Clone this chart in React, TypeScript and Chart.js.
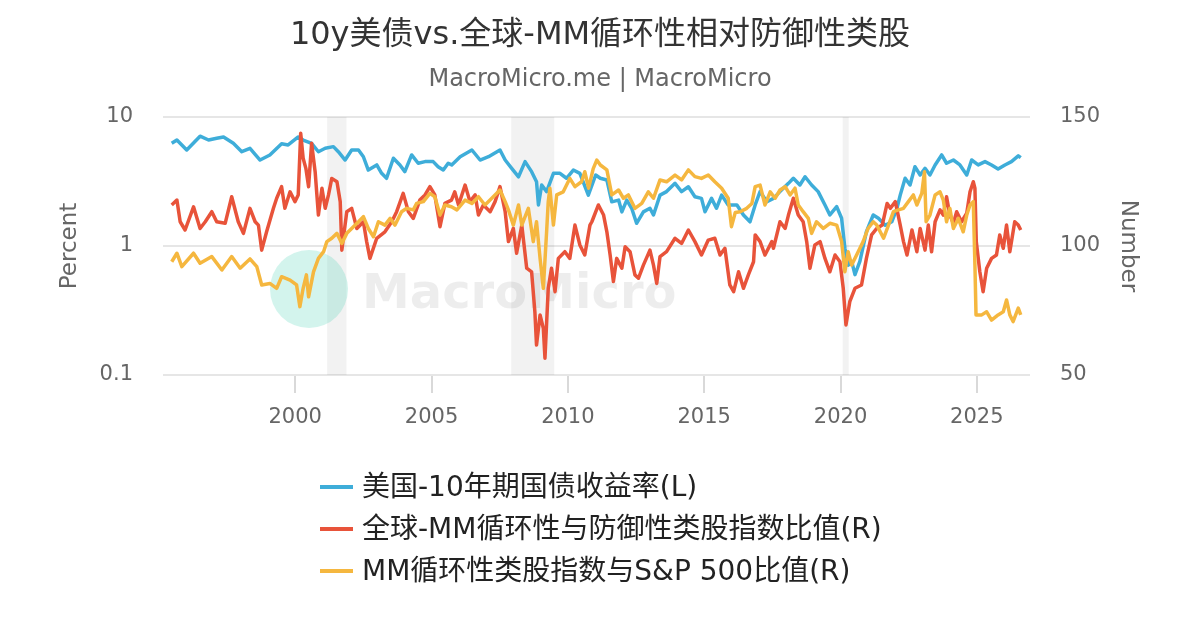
import React, { useEffect, useRef } from "react";
import { Chart, registerables } from "chart.js";

Chart.register(...registerables);

const FONT = '"DejaVu Sans", "Noto Sans CJK SC", sans-serif';

const TITLE = "10y美债vs.全球-MM循环性相对防御性类股";
const SUBTITLE = "MacroMicro.me | MacroMicro";
const SERIES_NAMES = [
  "美国-10年期国债收益率(L)",
  "全球-MM循环性与防御性类股指数比值(R)",
  "MM循环性类股指数与S&P 500比值(R)",
];
const COLORS = ["#3EADD9", "#E8533A", "#F5B73F"];
const LEFT_TITLE = "Percent";
const RIGHT_TITLE = "Number";

const X_TICKS = [2000, 2005, 2010, 2015, 2020, 2025];
const LEFT_TICKS = [0.1, 1, 10];
const RIGHT_TICKS = [50, 100, 150];
const RECESSIONS: [number, number][] = [
  [2001.17, 2001.88],
  [2007.92, 2009.5],
  [2020.08, 2020.3],
];

// US 10-year treasury yield (%), left log axis
const yieldSeries: [number, number][] = [
  [1995.47, 6.25], [1995.66, 6.63], [1996.02, 5.55], [1996.51, 7.1], [1996.82, 6.63],
  [1997.12, 6.84], [1997.37, 7.0], [1997.73, 6.25], [1998.04, 5.38], [1998.34, 5.72],
  [1998.71, 4.64], [1999.07, 5.08], [1999.5, 6.2], [1999.74, 6.07], [2000.11, 7.0],
  [2000.29, 6.63], [2000.6, 6.25], [2000.85, 5.38], [2001.1, 5.72], [2001.4, 5.89],
  [2001.58, 5.38], [2001.83, 4.64], [2002.07, 5.55], [2002.32, 5.55], [2002.5, 4.92],
  [2002.68, 3.88], [2002.99, 4.25], [2003.17, 3.66], [2003.35, 3.35], [2003.6, 4.79],
  [2003.84, 4.25], [2004.02, 3.77], [2004.27, 5.08], [2004.51, 4.38], [2004.76, 4.51],
  [2005.06, 4.51], [2005.24, 4.12], [2005.43, 3.88], [2005.61, 4.38], [2005.74, 4.25],
  [2006.05, 4.92], [2006.48, 5.55], [2006.78, 4.64], [2007.09, 4.92], [2007.51, 5.55],
  [2007.7, 4.64], [2007.94, 4.0], [2008.19, 3.44], [2008.43, 4.51], [2008.67, 3.77],
  [2008.85, 3.15], [2008.92, 2.08], [2009.04, 2.97], [2009.22, 2.64], [2009.47, 3.66],
  [2009.71, 3.66], [2009.95, 3.35], [2010.2, 3.88], [2010.44, 3.66], [2010.75, 2.48],
  [2011.02, 3.55], [2011.19, 3.35], [2011.43, 3.25], [2011.61, 2.2], [2011.86, 2.27],
  [2011.98, 1.84], [2012.16, 2.27], [2012.34, 1.96], [2012.52, 1.5], [2012.77, 1.84],
  [2013.01, 1.96], [2013.14, 1.74], [2013.38, 2.48], [2013.62, 2.64], [2013.93, 3.06],
  [2014.17, 2.64], [2014.42, 2.88], [2014.66, 2.41], [2014.9, 2.34], [2015.03, 1.84],
  [2015.27, 2.34], [2015.45, 1.96], [2015.64, 2.48], [2015.88, 2.08], [2016.2, 2.08],
  [2016.44, 1.74], [2016.68, 1.54], [2016.87, 2.08], [2017.05, 2.64], [2017.3, 2.2],
  [2017.54, 2.34], [2017.78, 2.64], [2018.09, 3.06], [2018.27, 3.35], [2018.51, 2.97],
  [2018.7, 3.44], [2018.94, 2.97], [2019.18, 2.64], [2019.43, 2.08], [2019.61, 1.74],
  [2019.86, 2.02], [2020.04, 1.64], [2020.16, 0.96], [2020.28, 0.71], [2020.41, 0.76],
  [2020.53, 0.6], [2020.71, 0.76], [2020.95, 1.29], [2021.2, 1.74], [2021.39, 1.64],
  [2021.64, 1.45], [2021.88, 1.54], [2022.07, 1.96], [2022.19, 2.48], [2022.37, 3.35],
  [2022.55, 2.97], [2022.73, 4.12], [2022.92, 3.55], [2023.1, 4.0], [2023.28, 3.55],
  [2023.47, 4.25], [2023.71, 5.08], [2023.89, 4.38], [2024.14, 4.64], [2024.38, 4.25],
  [2024.63, 3.55], [2024.81, 4.64], [2025.05, 4.25], [2025.3, 4.51], [2025.54, 4.25],
  [2025.78, 3.95], [2026.03, 4.25], [2026.27, 4.51], [2026.52, 5.0], [2026.61, 4.84],
];

// Global MM cyclical / defensive sector index ratio, right axis
const cycDefSeries: [number, number][] = [
  [1995.47, 115.9], [1995.66, 117.8], [1995.78, 109.4], [1995.96, 106.2], [1996.27, 115.2],
  [1996.51, 106.8], [1996.7, 109.4], [1996.94, 113.3], [1997.12, 109.4], [1997.43, 108.8],
  [1997.67, 119.1], [1997.91, 109.4], [1998.1, 104.9], [1998.34, 114.6], [1998.53, 109.4],
  [1998.65, 108.1], [1998.77, 98.4], [1998.95, 105.5], [1999.2, 114.6], [1999.32, 118.5],
  [1999.5, 123.0], [1999.62, 114.6], [1999.81, 121.0], [1999.99, 117.2], [2000.11, 119.8],
  [2000.2, 143.7], [2000.29, 134.0], [2000.39, 130.1], [2000.49, 123.0], [2000.6, 139.8],
  [2000.73, 128.8], [2000.85, 112.0], [2000.98, 122.4], [2001.1, 114.6], [2001.22, 119.8],
  [2001.34, 126.2], [2001.53, 124.9], [2001.65, 117.2], [2001.71, 98.4], [2001.89, 113.3],
  [2002.07, 114.6], [2002.26, 106.8], [2002.5, 109.4], [2002.62, 101.7], [2002.74, 95.2],
  [2002.99, 103.0], [2003.29, 105.5], [2003.54, 109.4], [2003.72, 113.3], [2003.96, 120.4],
  [2004.15, 113.3], [2004.33, 110.7], [2004.57, 117.8], [2004.76, 119.8], [2004.94, 123.0],
  [2005.12, 119.8], [2005.31, 107.5], [2005.49, 116.5], [2005.73, 117.8], [2005.85, 121.0],
  [2005.99, 115.9], [2006.23, 123.6], [2006.41, 117.2], [2006.6, 119.8], [2006.72, 112.0],
  [2006.9, 115.9], [2007.15, 113.3], [2007.33, 117.2], [2007.51, 123.0], [2007.7, 113.3],
  [2007.82, 101.7], [2008.0, 106.8], [2008.12, 97.2], [2008.31, 108.1], [2008.49, 91.4],
  [2008.67, 90.0], [2008.79, 74.5], [2008.85, 61.6], [2008.98, 73.3], [2009.1, 68.1],
  [2009.16, 56.5], [2009.28, 83.6], [2009.4, 91.4], [2009.53, 82.3], [2009.65, 95.2],
  [2009.89, 97.8], [2010.07, 95.2], [2010.26, 108.1], [2010.44, 100.4], [2010.62, 96.5],
  [2010.81, 108.1], [2010.88, 109.4], [2011.12, 115.9], [2011.31, 112.0], [2011.43, 105.5],
  [2011.55, 96.5], [2011.67, 86.2], [2011.79, 95.2], [2011.98, 91.4], [2012.1, 99.7],
  [2012.28, 97.8], [2012.46, 88.8], [2012.59, 87.5], [2012.77, 92.6], [2013.01, 98.4],
  [2013.14, 92.6], [2013.26, 85.5], [2013.38, 95.9], [2013.62, 97.8], [2013.93, 103.0],
  [2014.17, 101.0], [2014.42, 106.2], [2014.66, 101.7], [2014.9, 96.5], [2015.15, 102.3],
  [2015.39, 103.0], [2015.58, 96.5], [2015.76, 99.1], [2015.94, 84.9], [2016.08, 82.3],
  [2016.26, 90.0], [2016.44, 83.6], [2016.62, 88.8], [2016.81, 93.9], [2016.87, 104.3],
  [2017.05, 101.7], [2017.23, 96.5], [2017.48, 101.7], [2017.54, 99.1], [2017.78, 109.4],
  [2017.97, 106.8], [2018.09, 112.0], [2018.27, 118.5], [2018.45, 112.0], [2018.63, 109.4],
  [2018.76, 101.7], [2018.88, 91.4], [2019.06, 100.4], [2019.25, 101.7], [2019.43, 95.2],
  [2019.61, 90.0], [2019.8, 96.5], [2019.98, 93.9], [2020.1, 83.6], [2020.2, 69.4],
  [2020.34, 78.4], [2020.53, 83.6], [2020.77, 84.9], [2020.95, 95.2], [2021.14, 104.3],
  [2021.33, 106.8], [2021.53, 108.1], [2021.71, 116.5], [2021.83, 114.6], [2022.01, 117.2],
  [2022.19, 108.1], [2022.31, 101.7], [2022.44, 96.5], [2022.62, 106.2], [2022.8, 97.8],
  [2022.92, 106.8], [2023.1, 98.4], [2023.22, 108.1], [2023.34, 97.8], [2023.47, 109.4],
  [2023.65, 114.0], [2023.77, 112.0], [2023.89, 119.1], [2024.01, 112.0], [2024.14, 108.8],
  [2024.26, 113.3], [2024.44, 109.4], [2024.63, 112.7], [2024.75, 121.0], [2024.87, 124.9],
  [2024.93, 122.4], [2024.98, 101.7], [2025.11, 90.0], [2025.23, 82.3], [2025.36, 91.4],
  [2025.54, 95.2], [2025.72, 96.5], [2025.84, 104.3], [2025.97, 99.1], [2026.09, 108.1],
  [2026.21, 97.8], [2026.39, 109.4], [2026.52, 108.1], [2026.61, 106.2],
];

// MM cyclical sector index / S&P 500 ratio, right axis
const cycSpxSeries: [number, number][] = [
  [1995.47, 93.9], [1995.66, 97.2], [1995.84, 92.0], [1996.27, 97.2], [1996.51, 93.3],
  [1996.94, 95.9], [1997.31, 90.7], [1997.67, 95.9], [1997.98, 91.4], [1998.34, 95.0],
  [1998.59, 92.0], [1998.77, 84.9], [1999.07, 85.5], [1999.32, 83.6], [1999.5, 88.1],
  [1999.81, 86.8], [2000.05, 84.9], [2000.17, 76.5], [2000.29, 83.6], [2000.41, 88.8],
  [2000.49, 80.3], [2000.67, 90.0], [2000.85, 95.2], [2001.04, 97.8], [2001.16, 101.7],
  [2001.34, 103.0], [2001.53, 104.9], [2001.71, 101.0], [2001.89, 104.9], [2002.07, 106.8],
  [2002.32, 109.4], [2002.5, 111.4], [2002.68, 106.8], [2002.87, 103.6], [2003.05, 109.4],
  [2003.29, 108.1], [2003.48, 110.7], [2003.66, 108.1], [2003.9, 113.3], [2004.09, 114.6],
  [2004.33, 114.0], [2004.45, 116.5], [2004.7, 117.2], [2004.94, 120.4], [2005.12, 119.1],
  [2005.31, 112.0], [2005.49, 115.9], [2005.73, 115.2], [2005.93, 114.0], [2006.23, 117.8],
  [2006.48, 116.5], [2006.72, 119.1], [2006.96, 115.9], [2007.21, 118.5], [2007.51, 121.7],
  [2007.7, 117.2], [2007.82, 114.0], [2008.0, 108.1], [2008.19, 115.9], [2008.31, 108.1],
  [2008.55, 114.6], [2008.73, 101.7], [2008.85, 109.4], [2008.98, 95.2], [2009.1, 83.6],
  [2009.22, 105.5], [2009.28, 117.2], [2009.34, 122.4], [2009.47, 108.1], [2009.59, 119.8],
  [2009.83, 121.0], [2010.07, 126.2], [2010.26, 123.0], [2010.5, 124.9], [2010.62, 128.8],
  [2010.76, 122.4], [2010.93, 130.0], [2011.06, 133.3], [2011.19, 131.4], [2011.43, 129.5],
  [2011.61, 119.8], [2011.86, 121.7], [2012.04, 118.5], [2012.22, 119.8], [2012.46, 114.6],
  [2012.71, 116.5], [2012.95, 121.0], [2013.14, 118.5], [2013.38, 125.6], [2013.62, 124.9],
  [2013.93, 127.5], [2014.17, 125.6], [2014.42, 129.5], [2014.66, 126.9], [2014.9, 126.2],
  [2015.15, 127.5], [2015.39, 124.9], [2015.64, 122.4], [2015.88, 118.5], [2016.0, 107.5],
  [2016.14, 113.0], [2016.32, 113.3], [2016.56, 114.6], [2016.75, 116.5], [2016.87, 123.0],
  [2017.05, 123.6], [2017.23, 115.9], [2017.42, 121.0], [2017.6, 118.5], [2017.78, 121.7],
  [2017.97, 123.0], [2018.15, 119.8], [2018.33, 122.4], [2018.45, 115.9], [2018.63, 113.3],
  [2018.82, 110.7], [2018.94, 104.9], [2019.12, 109.4], [2019.37, 106.8], [2019.61, 108.8],
  [2019.86, 108.1], [2020.04, 101.7], [2020.16, 90.0], [2020.28, 97.8], [2020.41, 92.6],
  [2020.59, 96.5], [2020.83, 101.7], [2021.01, 106.8], [2021.2, 109.4], [2021.33, 108.1],
  [2021.58, 103.0], [2021.76, 108.1], [2021.94, 113.3], [2022.13, 114.0], [2022.31, 114.6],
  [2022.49, 117.2], [2022.67, 119.8], [2022.8, 115.9], [2022.98, 120.4], [2023.08, 128.8],
  [2023.14, 109.4], [2023.28, 112.0], [2023.47, 119.8], [2023.65, 121.0], [2023.77, 117.8],
  [2023.89, 109.4], [2024.01, 114.6], [2024.14, 106.8], [2024.32, 110.7], [2024.5, 105.5],
  [2024.63, 112.0], [2024.75, 115.9], [2024.87, 117.2], [2024.93, 92.6], [2024.97, 73.3],
  [2025.18, 73.3], [2025.36, 74.5], [2025.54, 71.3], [2025.78, 73.3], [2025.97, 74.5],
  [2026.09, 79.1], [2026.21, 73.3], [2026.33, 70.7], [2026.52, 75.9], [2026.61, 73.3],
];

const X_MIN = 1995.15;
const X_MAX = 2026.95;

const toXY = (arr: [number, number][]) => arr.map(([x, y]) => ({ x, y }));

export default function App() {
  const ref = useRef<HTMLCanvasElement | null>(null);

  useEffect(() => {
    const canvas = ref.current;
    if (!canvas) return;

    const backdrop = {
      id: "backdrop",
      beforeDatasetsDraw(chart: any) {
        const { ctx, chartArea, scales } = chart;
        const { left, top, right, bottom } = chartArea;
        const w = right - left;
        const h = bottom - top;
        ctx.save();
        // recession bands
        ctx.fillStyle = "rgba(0,0,0,0.05)";
        for (const [a, b] of RECESSIONS) {
          const x0 = scales.x.getPixelForValue(a);
          const x1 = scales.x.getPixelForValue(b);
          ctx.fillRect(x0, top, x1 - x0, h);
        }
        // watermark
        const cx = left + 0.1684 * w;
        const cy = top + 0.667 * h;
        ctx.beginPath();
        ctx.arc(cx, cy, 39, 0, Math.PI * 2);
        ctx.fillStyle = "rgba(55,207,175,0.22)";
        ctx.fill();
        ctx.font = `bold 48px ${FONT}`;
        ctx.fillStyle = "rgba(0,0,0,0.07)";
        ctx.textBaseline = "alphabetic";
        ctx.textAlign = "left";
        ctx.fillText("MacroMicro", left + 0.2295 * w, top + 0.74 * h);
        ctx.restore();
      },
    };

    const tickFont = { family: FONT, size: 21 };
    const titleFont = { family: FONT, size: 23 };

    const chart = new Chart(canvas, {
      type: "line",
      data: {
        datasets: [
          {
            label: SERIES_NAMES[0],
            data: toXY(yieldSeries),
            borderColor: COLORS[0],
            backgroundColor: COLORS[0],
            yAxisID: "yL",
            order: 3,
          },
          {
            label: SERIES_NAMES[1],
            data: toXY(cycDefSeries),
            borderColor: COLORS[1],
            backgroundColor: COLORS[1],
            yAxisID: "yR",
            order: 2,
          },
          {
            label: SERIES_NAMES[2],
            data: toXY(cycSpxSeries),
            borderColor: COLORS[2],
            backgroundColor: COLORS[2],
            yAxisID: "yR",
            order: 1,
          },
        ] as any,
      },
      options: {
        responsive: false,
        animation: false,
        parsing: true,
        elements: {
          point: { radius: 0, hoverRadius: 0 },
          line: { borderWidth: 3.5, tension: 0, borderJoinStyle: "round" },
        },
        layout: { padding: { left: 56, right: 58, top: 117, bottom: 180 } },
        plugins: {
          legend: { display: false },
          tooltip: { enabled: false },
          title: { display: false },
        },
        scales: {
          x: {
            type: "linear",
            min: X_MIN,
            max: X_MAX,
            afterBuildTicks: (s: any) => {
              s.ticks = X_TICKS.map((v) => ({ value: v }));
            },
            afterFit: (s: any) => {
              s.height = 75;
            },
            grid: {
              drawOnChartArea: false,
              drawTicks: true,
              tickLength: 18,
              color: "#d9d9d9",
              lineWidth: 2,
            },
            border: { display: false },
            ticks: {
              padding: 12,
              color: "#666",
              font: tickFont,
              maxRotation: 0,
              autoSkip: false,
              callback: (v: any) => String(v),
            },
          },
          yL: {
            type: "logarithmic",
            position: "left",
            min: 0.1,
            max: 10,
            afterBuildTicks: (s: any) => {
              s.ticks = LEFT_TICKS.map((v) => ({ value: v }));
            },
            afterFit: (s: any) => {
              s.width = 107;
            },
            grid: { color: "#e6e6e6", lineWidth: 2, drawTicks: false },
            border: { display: false },
            ticks: {
              padding: 30,
              color: "#666",
              font: tickFont,
              callback: (v: any) => String(v),
            },
            title: {
              display: true,
              text: LEFT_TITLE,
              color: "#666",
              font: titleFont,
              padding: 0,
            },
          },
          yR: {
            type: "linear",
            position: "right",
            min: 50,
            max: 150,
            afterBuildTicks: (s: any) => {
              s.ticks = RIGHT_TICKS.map((v) => ({ value: v }));
            },
            afterFit: (s: any) => {
              s.width = 112;
            },
            grid: { drawOnChartArea: false, drawTicks: false },
            border: { display: false },
            ticks: {
              padding: 30,
              color: "#666",
              font: tickFont,
              callback: (v: any) => String(v),
            },
            title: {
              display: true,
              text: RIGHT_TITLE,
              color: "#666",
              font: titleFont,
              padding: 0,
            },
          },
        },
      } as any,
      plugins: [backdrop],
    });

    return () => chart.destroy();
  }, []);

  return (
    <div
      style={{
        position: "fixed",
        left: 0,
        top: 0,
        width: 1200,
        height: 630,
        background: "#fff",
        fontFamily: FONT,
        overflow: "hidden",
      }}
    >
      <canvas
        ref={ref}
        width={1200}
        height={630}
        style={{ position: "absolute", left: 0, top: 0, width: 1200, height: 630 }}
      />
      <div
        style={{
          position: "absolute",
          left: 0,
          top: 13,
          width: 1200,
          textAlign: "center",
          fontSize: 32,
          lineHeight: "40px",
          color: "#333",
          whiteSpace: "nowrap",
        }}
      >
        {TITLE}
      </div>
      <div
        style={{
          position: "absolute",
          left: 0,
          top: 63,
          width: 1200,
          textAlign: "center",
          fontSize: 24,
          lineHeight: "30px",
          color: "#666",
          whiteSpace: "nowrap",
        }}
      >
        {SUBTITLE}
      </div>
      <div style={{ position: "absolute", left: 320, top: 466 }}>
        {SERIES_NAMES.map((name, i) => (
          <div
            key={name}
            style={{ display: "flex", alignItems: "center", height: 42 }}
          >
            <div
              style={{
                width: 33,
                height: 4,
                background: COLORS[i],
                marginRight: 9,
                flex: "none",
              }}
            />
            <span
              style={{
                fontSize: 28,
                lineHeight: "42px",
                color: "#222",
                whiteSpace: "nowrap",
              }}
            >
              {name}
            </span>
          </div>
        ))}
      </div>
    </div>
  );
}
